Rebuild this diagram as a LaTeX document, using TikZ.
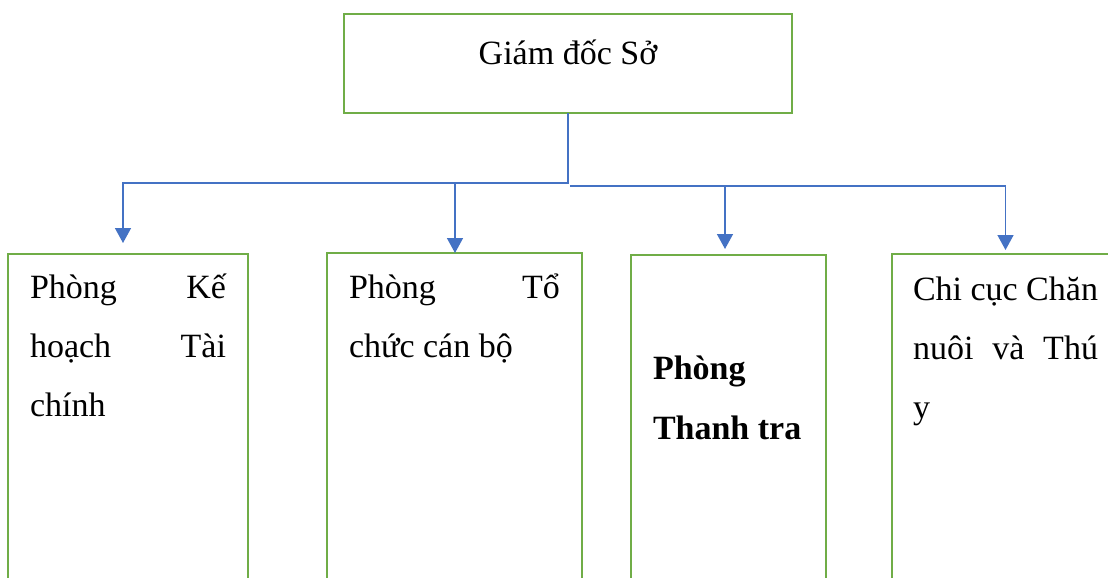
\documentclass[tikz,border=0pt]{standalone}
\usepackage{fontspec}
\setmainfont{Liberation Serif}
\usetikzlibrary{arrows.meta}
\definecolor{boxgreen}{HTML}{70AD47}
\definecolor{linkblue}{HTML}{4472C4}

\begin{document}
\begin{tikzpicture}[x=1pt, y=-1pt,
  unit/.style={draw=boxgreen, line width=2.5pt, outer sep=0pt, inner ysep=0pt, font=\fontsize{34}{59}\selectfont},
  dept/.style={unit, anchor=north west, inner xsep=22pt, text width=#1, align=flush left, text depth=340pt},
  link/.style={draw=linkblue, line width=1.5pt, -{Triangle[length=15pt,width=16pt]}}
]
\useasboundingbox (0,0) rectangle (1108,578);
\clip (0,0) rectangle (1108,578);
\node[unit, anchor=north, minimum width=448pt, text height=50pt, text depth=49pt] (gd) at (568,14) {Giám đốc Sở};
\node[dept=196pt, text height=44pt] (khtc) at (8,254) {Phòng\hfill Kế\\hoạch\hfill Tài\\chính};
\node[dept=211pt, text height=45pt] (tccb) at (327,253) {Phòng\hfill Tổ\\chức cán bộ};
\node[dept=151pt, text height=124pt, font=\fontsize{34}{60}\selectfont\bfseries] (ttra) at (631,255) {Phòng\\Thanh~tra};
\node[dept=185pt, inner xsep=21pt, text height=46pt] (chicuc) at (892,254) {Chi~cục~Chăn\\nuôi\hfill và\hfill Thú\\y};
% connectors
\coordinate (busL) at (455,183);
\coordinate (busR) at (570,186);
\draw[link] (gd.south) |- (busL) -| ([xshift=-5pt,yshift=11pt]khtc.north);
\draw[link] (busL) -- (busL |- tccb.north);
\draw[link] (busR) -| ([xshift=-3.5pt,yshift=6pt]ttra.north);
\draw[link] (busR) -| ([yshift=4pt]chicuc.north);
\end{tikzpicture}
\end{document}
